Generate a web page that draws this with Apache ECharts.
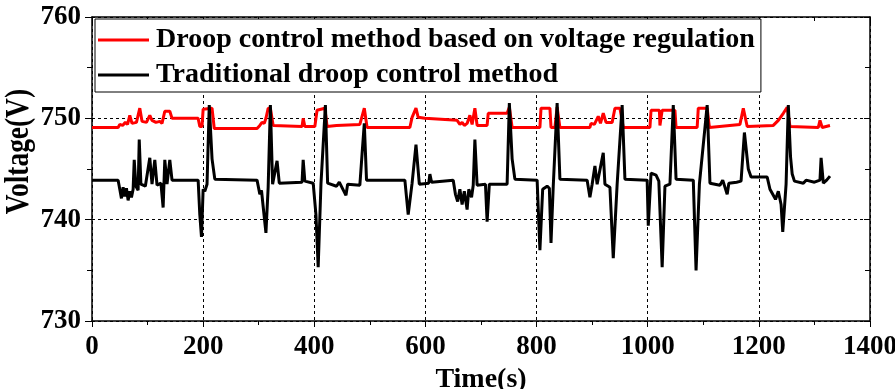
<!DOCTYPE html>
<html>
<head>
<meta charset="utf-8">
<script src="https://cdn.jsdelivr.net/npm/echarts@6/dist/echarts.min.js"></script>
<style>
  html, body { margin: 0; padding: 0; background: #fff; }
  #chart { width: 895px; height: 389px; }
</style>
</head>
<body>
<div id="chart"></div>
<script>
// Bus voltage over time, [time (s), voltage (V)]
const regulatedDroop = [
  [0,749.1],[47,749.1],[50,749.4],[55,749.3],[60,749.6],[64,749.4],[68,750.3],[72,749.5],[80,749.6],
  [86,751.0],[90,749.7],[98,749.6],[104,750.3],[108,749.8],[115,749.6],[122,749.7],[126,749.5],
  [131,750.7],[140,750.7],[144,750.0],[191,750.0],[194,749.2],[198,749.2],[200,750.9],[216,751.0],
  [220,749.0],[297,749.0],[302,749.3],[306,749.6],[310,749.5],[313,750.0],[317,751.0],[321,751.0],
  [326,749.3],[378,749.2],[380,750.0],[383,749.2],[401,749.2],[405,750.8],[419,751.0],[423,749.2],
  [440,749.3],[482,749.4],[490,751.0],[495,749.1],[572,749.1],[576,750.1],[583,751.0],[587,750.1],
  [599,750.0],[657,749.8],[662,749.4],[666,749.6],[670,749.3],[675,749.5],[680,750.3],[684,749.4],
  [689,751.0],[693,749.3],[711,749.3],[713,750.5],[747,750.5],[751,751.1],[756,749.1],[806,749.1],
  [808,751.0],[824,751.0],[826,749.1],[833,749.1],[837,751.1],[842,749.1],[896,749.1],[898,749.5],
  [904,749.4],[911,750.2],[915,749.5],[920,750.5],[925,749.6],[936,749.6],[941,751.0],[950,751.0],
  [956,749.1],[1004,749.1],[1006,750.8],[1021,750.8],[1022,749.3],[1026,750.8],[1049,750.8],
  [1051,749.1],[1089,749.1],[1091,751.0],[1107,751.0],[1111,749.1],[1166,749.4],[1172,751.0],
  [1179,749.2],[1226,749.3],[1235,749.8],[1244,750.5],[1251,751.1],[1256,749.2],[1307,749.1],
  [1310,749.8],[1314,749.1],[1328,749.3]
];

const traditionalDroop = [
  [0,743.9],[47,743.9],[50,743.0],[53,742.1],[56,743.2],[59,742.3],[62,743.1],[65,741.9],[68,742.8],
  [71,742.2],[74,743.0],[76,745.9],[79,743.3],[83,742.9],[85,747.9],[88,743.5],[96,743.3],[104,746.1],
  [108,743.5],[113,745.9],[117,743.4],[124,743.6],[128,741.2],[131,745.9],[135,743.5],[140,745.9],
  [144,743.9],[191,743.9],[194,740.5],[197,738.3],[200,743.0],[203,742.8],[207,743.5],[211,751.3],
  [216,746.0],[221,744.0],[297,743.9],[302,742.5],[305,742.9],[308,741.3],[313,738.7],[317,743.2],
  [321,751.3],[325,743.5],[333,745.8],[337,743.6],[378,743.7],[380,745.9],[383,743.8],[398,743.6],
  [403,740.5],[407,735.3],[412,743.5],[420,751.3],[424,743.6],[440,743.3],[445,743.7],[457,742.4],
  [460,743.5],[482,743.4],[486,746.5],[490,749.5],[494,743.9],[563,743.9],[569,740.5],[576,743.6],
  [583,747.4],[589,743.5],[606,743.6],[608,744.5],[611,743.7],[650,743.9],[654,742.5],[658,741.8],
  [662,743.0],[666,741.5],[670,742.8],[675,741.0],[678,743.0],[683,742.2],[686,743.4],[689,747.9],
  [693,743.4],[708,743.5],[711,739.8],[715,743.5],[747,743.5],[751,751.5],[756,746.0],[761,744.0],
  [801,743.9],[806,737.0],[811,743.0],[819,743.3],[823,743.1],[826,737.7],[830,743.3],[837,751.5],
  [842,744.0],[891,743.9],[896,742.2],[900,743.5],[905,745.3],[909,743.5],[920,746.6],[923,743.5],
  [932,743.2],[938,736.2],[945,743.5],[954,751.3],[959,744.0],[999,743.9],[1001,739.4],[1006,744.6],
  [1015,744.4],[1020,743.8],[1026,735.3],[1031,743.3],[1040,743.5],[1046,751.3],[1051,744.0],
  [1082,743.9],[1087,735.0],[1093,743.5],[1107,751.3],[1112,743.6],[1130,743.4],[1135,743.9],
  [1143,742.5],[1146,743.6],[1160,743.7],[1168,743.8],[1174,748.6],[1181,745.0],[1186,744.2],
  [1215,744.2],[1220,743.0],[1225,742.5],[1230,742.0],[1235,742.8],[1240,741.5],[1243,738.8],
  [1249,743.5],[1253,751.3],[1257,746.2],[1260,744.5],[1264,743.8],[1280,743.6],[1285,743.9],
  [1300,743.7],[1310,743.9],[1312,746.1],[1316,743.6],[1322,743.9],[1328,744.3]
];

const seriesNames = [
  'Droop control method based on voltage regulation',
  'Traditional droop control method'
];
const xTicks = [0, 1400, 200];   // min, max, interval
const yTicks = [730, 760, 10];

const FONT = '"Liberation Serif", "Times New Roman", serif';
const chart = echarts.init(document.getElementById('chart'), null, { renderer: 'canvas' });

const labelStyle = { fontFamily: FONT, fontWeight: 'bold', fontSize: 27, color: '#000', formatter: v => String(v) };
const dashedGrid = { show: true, lineStyle: { color: '#000', type: [3, 3], width: 1 } };

chart.setOption({
  animation: false,
  backgroundColor: '#fff',
  grid: { left: 92, right: 25, top: 17, bottom: 68, containLabel: false, outerBoundsMode: 'none' },
  legend: {
    orient: 'vertical',
    left: 95, top: 19,
    padding: [6, 6, 2, 3],
    itemGap: 5,
    itemWidth: 51, itemHeight: 3,
    borderColor: '#000', borderWidth: 1,
    backgroundColor: '#fff',
    icon: 'rect',
    textStyle: { fontFamily: FONT, fontWeight: 'bold', fontSize: 28, color: '#000', lineHeight: 30, padding: [0, 0, 0, 2] },
    data: seriesNames
  },
  graphic: [{
    // rotated, slightly condensed y-axis title
    type: 'text', left: 3, top: 89,
    rotation: Math.PI / 2,
    style: { text: 'Voltage(V)', fontFamily: FONT, fontWeight: 'bold', fontSize: 33, fill: '#000' },
    scaleX: 0.83, scaleY: 1,
    silent: true
  }],
  xAxis: [{
    type: 'value', min: xTicks[0], max: xTicks[1], interval: xTicks[2],
    name: 'Time(s)', nameLocation: 'middle', nameGap: 43,
    nameTextStyle: { fontFamily: FONT, fontWeight: 'bold', fontSize: 28, color: '#000' },
    axisLine: { onZero: false, lineStyle: { color: '#000', width: 1.5 } },
    axisTick: { inside: false, length: 6, lineStyle: { color: '#000', width: 1 } },
    minorTick: { show: true, splitNumber: 2, length: 4, lineStyle: { color: '#000' } },
    axisLabel: Object.assign({ margin: 13 }, labelStyle),
    splitLine: dashedGrid
  }, {
    type: 'value', position: 'top', min: xTicks[0], max: xTicks[1], interval: xTicks[2],
    axisLine: { onZero: false, lineStyle: { color: '#000', width: 1.5 } },
    axisTick: { inside: true, length: 6, lineStyle: { color: '#000' } },
    minorTick: { show: true, splitNumber: 2, length: 4, lineStyle: { color: '#000' } },
    axisLabel: { show: false }, splitLine: { show: false }
  }],
  yAxis: [{
    type: 'value', min: yTicks[0], max: yTicks[1], interval: yTicks[2],
    axisLine: { onZero: false, lineStyle: { color: '#000', width: 1.5 } },
    axisTick: { inside: false, length: 7, lineStyle: { color: '#000', width: 1 } },
    minorTick: { show: true, splitNumber: 2, length: 5, lineStyle: { color: '#000' } },
    axisLabel: Object.assign({ margin: 11 }, labelStyle),
    splitLine: dashedGrid
  }, {
    type: 'value', position: 'right', min: yTicks[0], max: yTicks[1], interval: yTicks[2],
    axisLine: { onZero: false, lineStyle: { color: '#000', width: 1.5 } },
    axisTick: { inside: true, length: 6, lineStyle: { color: '#000' } },
    minorTick: { show: true, splitNumber: 2, length: 5, lineStyle: { color: '#000' } },
    axisLabel: { show: false }, splitLine: { show: false }
  }],
  series: [{
    name: seriesNames[0], type: 'line', data: regulatedDroop,
    showSymbol: false, symbol: 'none',
    lineStyle: { color: '#ff0000', width: 3 }, itemStyle: { color: '#ff0000' },
    z: 2
  }, {
    name: seriesNames[1], type: 'line', data: traditionalDroop,
    showSymbol: false, symbol: 'none',
    lineStyle: { color: '#000', width: 3 }, itemStyle: { color: '#000' },
    z: 3
  }]
});
</script>
</body>
</html>
